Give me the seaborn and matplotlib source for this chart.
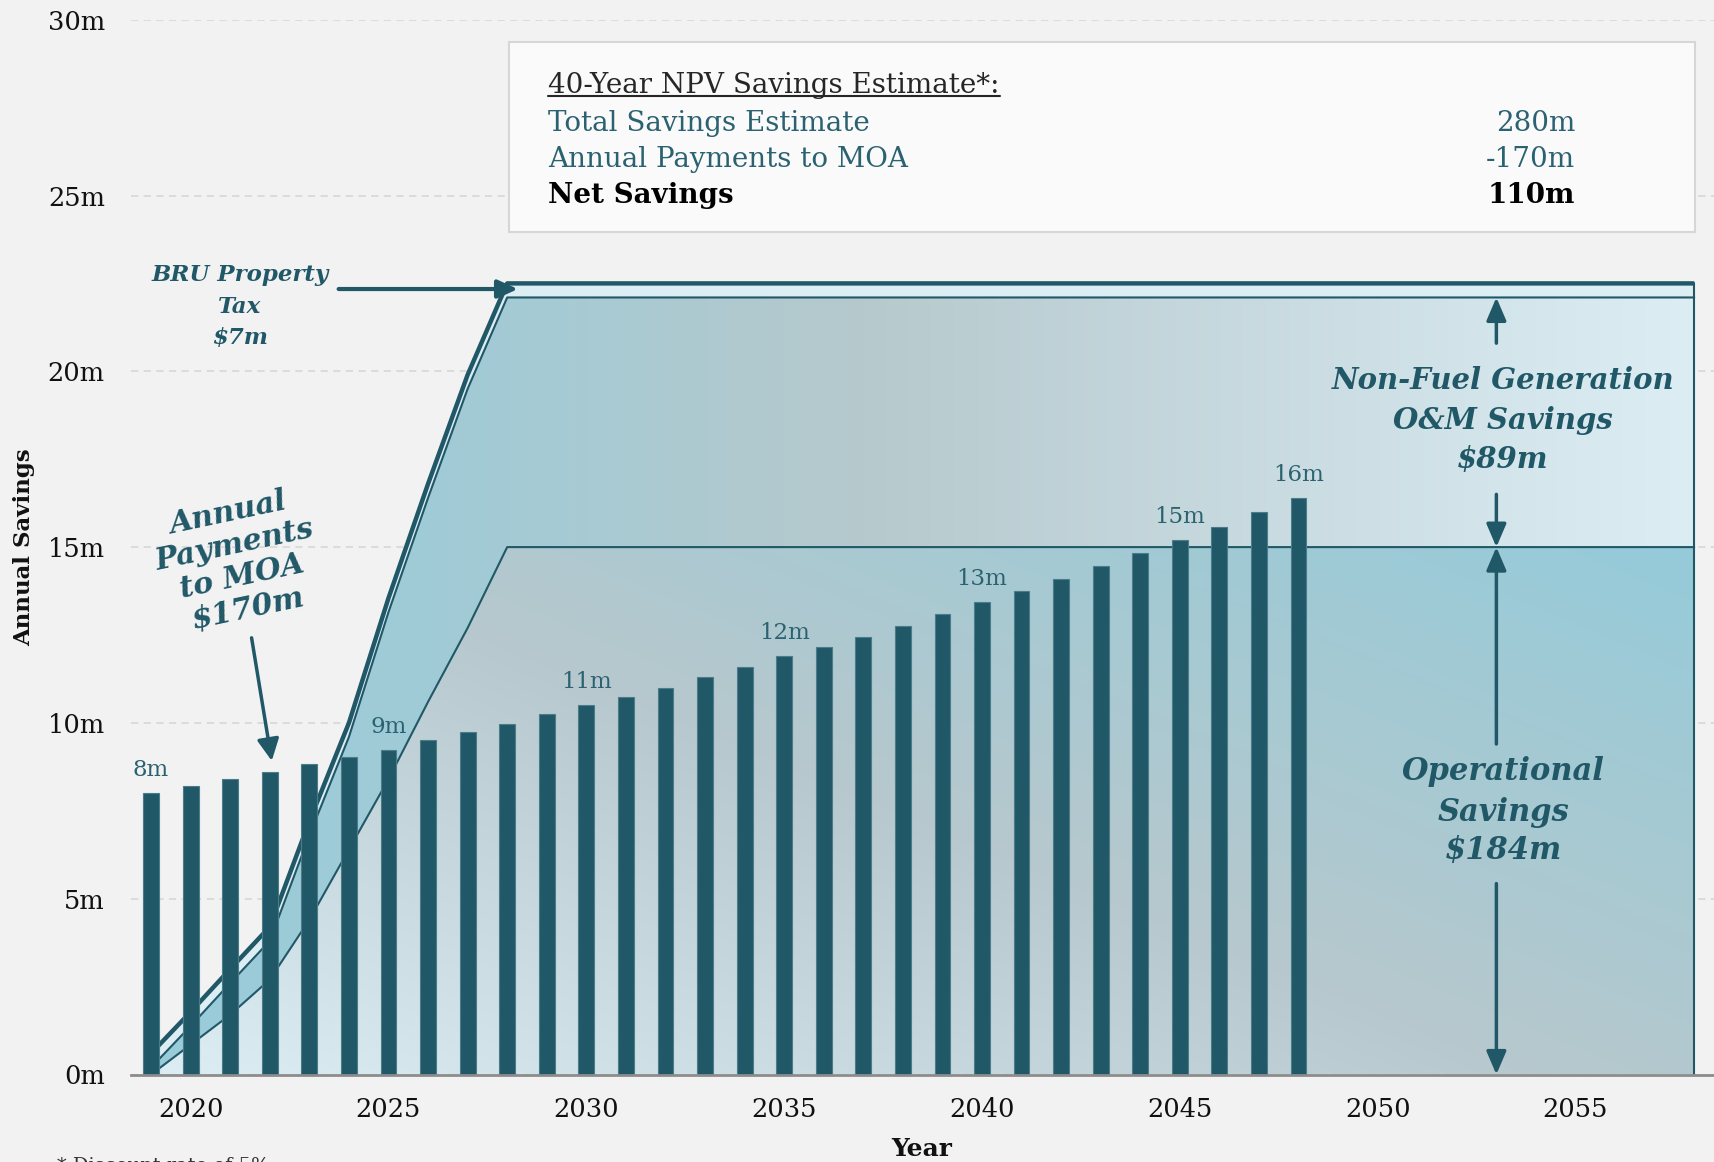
import numpy as np
import pandas as pd
import matplotlib
matplotlib.use("Agg")
import matplotlib.pyplot as plt
import seaborn as sns
from matplotlib.colors import LinearSegmentedColormap
from matplotlib.patches import Rectangle
from matplotlib.lines import Line2D

# ---------------- data ----------------
YEARS = list(range(2019, 2059))
PAY_YEARS = list(range(2019, 2049))
PAYMENTS = [8.00, 8.20, 8.40, 8.60, 8.82, 9.03, 9.23, 9.50, 9.75, 9.97,
            10.25, 10.50, 10.75, 11.00, 11.30, 11.58, 11.90, 12.15, 12.45, 12.76,
            13.10, 13.44, 13.75, 14.10, 14.47, 14.84, 15.20, 15.56, 16.00, 16.40]
OPERATIONAL = [0.0, 0.85, 1.7, 2.7, 4.4, 6.4, 8.4, 10.6, 12.7, 15.0,
               15.0, 15.0, 15.0, 15.0, 15.0, 15.0, 15.0, 15.0, 15.0, 15.0,
               15.0, 15.0, 15.0, 15.0, 15.0, 15.0, 15.0, 15.0, 15.0, 15.0,
               15.0, 15.0, 15.0, 15.0, 15.0, 15.0, 15.0, 15.0, 15.0, 15.0]
OM_SAVINGS = [0.2, 0.53, 0.9, 1.1, 2.4, 3.2, 4.75, 5.8, 6.8, 7.1,
              7.1, 7.1, 7.1, 7.1, 7.1, 7.1, 7.1, 7.1, 7.1, 7.1,
              7.1, 7.1, 7.1, 7.1, 7.1, 7.1, 7.1, 7.1, 7.1, 7.1,
              7.1, 7.1, 7.1, 7.1, 7.1, 7.1, 7.1, 7.1, 7.1, 7.1]
BRU_TAX = [0.4, 0.4, 0.4, 0.4, 0.4, 0.4, 0.4, 0.4, 0.4, 0.4,
           0.4, 0.4, 0.4, 0.4, 0.4, 0.4, 0.4, 0.4, 0.4, 0.4,
           0.4, 0.4, 0.4, 0.4, 0.4, 0.4, 0.4, 0.4, 0.4, 0.4,
           0.4, 0.4, 0.4, 0.4, 0.4, 0.4, 0.4, 0.4, 0.4, 0.4]
BAR_LABEL_YEARS = [2019, 2025, 2030, 2035, 2040, 2045, 2048]
BAR_LABELS = ["8m", "9m", "11m", "12m", "13m", "15m", "16m"]
Y_TICKS = [0, 5, 10, 15, 20, 25, 30]
Y_TICK_LABELS = ["0m", "5m", "10m", "15m", "20m", "25m", "30m"]
X_TICK_YEARS = [2020, 2025, 2030, 2035, 2040, 2045, 2050, 2055]
BOX_ROWS = ["Total Savings Estimate", "Annual Payments to MOA", "Net Savings"]
BOX_VALUES = ["280m", "-170m", "110m"]

# ---------------- style ----------------
DARK = "#215868"
TEXT_TEAL = "#2b6272"
BG = "#f2f2f2"
W, H = 1714, 1162

sns.set_theme(style="white")
plt.rcParams["font.family"] = ["DejaVu Serif"]

fig = plt.figure(figsize=(W / 100, H / 100), dpi=100, facecolor=BG)
ax_left, ax_right, ax_top, ax_bottom = 131.3, 1714, 19.7, 1074.5
ax = fig.add_axes([ax_left / W, 1 - ax_bottom / H, (ax_right - ax_left) / W,
                   (ax_bottom - ax_top) / H])
ax.set_facecolor(BG)

def fx(px):
    return px / W

def fy(py):
    return 1 - py / H

x = np.arange(len(YEARS))
op_top = np.array(OPERATIONAL)
om_top = op_top + np.array(OM_SAVINGS)
bru_top = om_top + np.array(BRU_TAX)

# ----- gradient areas -----
gx = np.linspace(0, x[-1], 500)
gy = np.linspace(0, 23, 300)
GX, GY = np.meshgrid(gx, gy)

ops_cmap = LinearSegmentedColormap.from_list(
    "ops", [(0, "#dcedf3"), (0.5, "#b6c8cd"), (1, "#95cbd9")])
U = np.clip(0.55 * GX / x[-1] + 0.45 * GY / 15, 0, 1)
im1 = ax.imshow(ops_cmap(U), extent=[0, x[-1], 0, 23], origin="lower",
                aspect="auto", interpolation="bilinear", zorder=1.2)
p1 = ax.fill_between(x, 0, op_top, facecolor="none", edgecolor="none")
im1.set_clip_path(p1.get_paths()[0], ax.transData)

om_cmap = LinearSegmentedColormap.from_list(
    "om", [(0, "#99ccda"), (7 / 39, "#a0cbd6"), (18 / 39, "#b6c9cd"), (1, "#dceef4")])
T = GX / x[-1]
im2 = ax.imshow(om_cmap(T), extent=[0, x[-1], 0, 23], origin="lower",
                aspect="auto", interpolation="bilinear", zorder=1.1)
p2 = ax.fill_between(x, op_top, om_top, facecolor="none", edgecolor="none")
im2.set_clip_path(p2.get_paths()[0], ax.transData)

ax.fill_between(x, om_top, bru_top, facecolor="#dcedf3", edgecolor="none", zorder=1.3)

ax.plot(x, op_top, color=DARK, lw=1.5, zorder=2)
ax.plot(x, om_top, color=DARK, lw=1.5, zorder=2)
ax.plot(x, bru_top, color=DARK, lw=3.2, zorder=2.1, solid_capstyle="butt")
ax.plot([x[-1], x[-1]], [0, bru_top[-1]], color=DARK, lw=1.5, zorder=2)

# ----- bars -----
df = pd.DataFrame({"year": PAY_YEARS, "payment": PAYMENTS})
sns.barplot(data=df, x="year", y="payment", order=YEARS, color=DARK,
            saturation=1, width=0.4, edgecolor="#4a7c8a", linewidth=0.8,
            ax=ax, zorder=5, errorbar=None)

for yr, lab in zip(BAR_LABEL_YEARS, BAR_LABELS):
    val = PAYMENTS[PAY_YEARS.index(yr)]
    ax.text(YEARS.index(yr), val + 0.65, lab, ha="center", va="center",
            fontsize=16.5, color=TEXT_TEAL, zorder=6)

# ----- axes -----
ax.set_xlim(-0.5, len(YEARS) - 0.5)
ax.set_ylim(0, 30)
ax.set_xticks([YEARS.index(y) for y in X_TICK_YEARS])
ax.set_xticklabels([str(y) for y in X_TICK_YEARS], fontsize=18.5, color="#111111")
ax.set_xticks(np.arange(-0.5, len(YEARS), 1), minor=True)
ax.tick_params(axis="x", which="major", length=0, pad=16)
ax.tick_params(axis="x", which="minor", length=7, width=1.5, color="#8c8c8c",
               direction="out")
ax.set_yticks(Y_TICKS)
ax.set_yticklabels(Y_TICK_LABELS, fontsize=18.5, color="#111111")
ax.tick_params(axis="y", length=0, pad=19)
ax.yaxis.grid(True, linestyle=(0, (4, 3)), color="#d9d9d9", lw=1.3)
ax.xaxis.grid(False)
ax.set_axisbelow(True)
for s in ["top", "right", "left"]:
    ax.spines[s].set_visible(False)
ax.spines["bottom"].set_color("#8c8c8c")
ax.spines["bottom"].set_linewidth(2)
ax.spines["bottom"].set_zorder(7)
ax.set_xlabel("")
ax.set_ylabel("")

fig.text(fx(24), fy(547), "Annual Savings", rotation=90, ha="center", va="center",
         fontsize=16.5, fontweight="bold", color="#111111")
fig.text(fx(922), fy(1149), "Year", ha="center", va="center",
         fontsize=18, fontweight="bold", color="#111111")
fig.text(fx(57), fy(1157), "* Discount rate of 5%", ha="left", va="top",
         fontsize=14, color="#333333")

# ----- annotations -----
ann_kw = dict(color=DARK, fontweight="bold", fontstyle="italic", ha="center", va="center")
for txt, py in zip(["BRU Property", "Tax", "$7m"], [275.5, 307.2, 337.8]):
    fig.text(fx(240), fy(py), txt, fontsize=16.5, **ann_kw)
ax.annotate("", xy=(9.27, 22.34), xytext=(4.74, 22.34),
            arrowprops=dict(arrowstyle="-|>,head_length=0.55,head_width=0.25",
                            color=DARK, lw=3.0, shrinkA=0, shrinkB=0,
                            mutation_scale=22), zorder=6)

ax.text(2.2, 14.6, "Annual\nPayments\nto MOA\n$170m", rotation=12,
        rotation_mode="anchor", fontsize=21.5, linespacing=1.15,
        multialignment="center", zorder=6, **ann_kw)
ax.annotate("", xy=(3.05, 8.92), xytext=(2.54, 12.42),
            arrowprops=dict(arrowstyle="-|>,head_length=0.6,head_width=0.3",
                            color=DARK, lw=2.5, shrinkA=0, shrinkB=0,
                            mutation_scale=22), zorder=6)

for txt, py in zip(["Non-Fuel Generation", "O&M Savings", "$89m"], [380.4, 420.8, 459.1]):
    fig.text(fx(1503), fy(py), txt, fontsize=21, **ann_kw)
for txt, py in zip(["Operational", "Savings", "$184m"], [771.7, 812.2, 850.4]):
    fig.text(fx(1503), fy(py), txt, fontsize=22, **ann_kw)

arrow_kw = dict(arrowstyle="-|>,head_length=0.7,head_width=0.3", color=DARK, lw=2.5,
                shrinkA=0, shrinkB=0, mutation_scale=20)
xa = YEARS.index(2053)
ax.annotate("", xy=(xa, 22.1), xytext=(xa, 20.8), arrowprops=arrow_kw, zorder=6)
ax.annotate("", xy=(xa, 15.0), xytext=(xa, 16.5), arrowprops=arrow_kw, zorder=6)
ax.annotate("", xy=(xa, 15.0), xytext=(xa, 9.4), arrowprops=arrow_kw, zorder=6)
ax.annotate("", xy=(xa, 0.0), xytext=(xa, 5.43), arrowprops=arrow_kw, zorder=6)

# ----- NPV box -----
box = Rectangle((fx(509), fy(231.7)), (1695 - 509) / W, (231.7 - 41.5) / H,
                transform=fig.transFigure, facecolor="#fafafa", edgecolor="#d6d6d6",
                lw=1.5, zorder=5)
fig.patches.append(box)
hdr = fig.text(fx(548), fy(92.7), "40-Year NPV Savings Estimate*:", ha="left",
               va="baseline", fontsize=20, color="#262626", zorder=6)
row_base = [131, 167.3, 202.7]
for i, (lab, val) in enumerate(zip(BOX_ROWS, BOX_VALUES)):
    bold = i == 2
    col = "#000000" if bold else TEXT_TEAL
    fig.text(fx(548), fy(row_base[i]), lab, ha="left", va="baseline", fontsize=20,
             color=col, fontweight="bold" if bold else "normal", zorder=6)
    fig.text(fx(1575), fy(row_base[i]), val, ha="right", va="baseline", fontsize=20,
             color=col, fontweight="bold" if bold else "normal", zorder=6)

fig.canvas.draw()
bb = hdr.get_window_extent(fig.canvas.get_renderer())
base_px = H - 92.7
fig.add_artist(Line2D([bb.x0 / W, bb.x1 / W], [(base_px - 3) / H, (base_px - 3) / H],
                      transform=fig.transFigure, color="#262626", lw=1.5, zorder=6))

fig.savefig("out.png", dpi=100, facecolor=BG)
